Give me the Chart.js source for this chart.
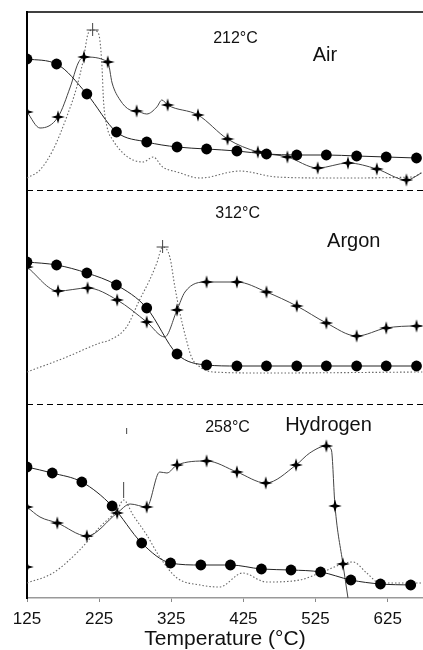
<!DOCTYPE html>
<html>
<head>
<meta charset="utf-8">
<script src="https://cdn.jsdelivr.net/npm/chart.js@4.4.0/dist/chart.umd.min.js"></script>
<style>
html,body{margin:0;padding:0;background:#fff}
canvas{display:block}
</style>
</head>
<body>
<canvas id="grafico" width="423" height="650"></canvas>
<script>
// eje x
const tempTicks = [125, 225, 325, 425, 525, 625]

// paneles
const panelNames = ['Air', 'Argon', 'Hydrogen']
const peakTemps = ['212°C', '312°C', '258°C']

// Air
const airCircT = [125, 166, 208, 249, 291, 333, 374, 416, 457, 499, 540, 582, 623, 665]
const airCirc = [131, 126, 96, 58, 48, 43, 41, 39, 36, 35, 35, 34, 33, 32]
const airStarT = [125, 143, 168, 185, 196, 204, 237, 243, 254, 268, 277, 291, 305, 312, 320, 362, 403, 445, 486, 528, 570, 610, 651, 672]
const airStar = [78, 62, 73, 103, 127, 133, 128, 107, 90, 80, 79, 76, 83, 90, 85, 75, 51, 38, 33, 22, 27, 21, 10, 17]
const airStarMark = [1, 0, 1, 0, 0, 1, 1, 0, 0, 0, 1, 0, 0, 0, 1, 1, 1, 1, 1, 1, 1, 1, 1, 0]
const airDtaT = [125, 143, 161, 180, 194, 203, 210, 216, 223, 226, 229, 231, 236, 244, 258, 272, 286, 300, 313, 333, 365, 420, 471, 549, 660, 673]
const airDta = [12, 20, 40, 73, 103, 130, 157, 160, 158, 150, 123, 90, 63, 50, 37, 30, 28, 33, 23, 18, 12, 19, 13, 12, 13, 18]

// Argon
const arCircT = [125, 166, 208, 249, 291, 333, 374, 416, 457, 499, 540, 582, 623, 665]
const arCirc = [142, 139, 131, 119, 96, 50, 39, 38, 38, 38, 38, 38, 38, 38]
const arStarT = [125, 168, 209, 250, 291, 316, 333, 344, 374, 416, 457, 499, 540, 582, 623, 665, 673]
const arStar = [137, 113, 116, 104, 82, 67, 94, 112, 122, 122, 112, 98, 81, 68, 76, 78, 78]
const arStarMark = [1, 1, 1, 1, 1, 0, 1, 0, 1, 1, 1, 1, 1, 1, 1, 1, 0]
const arDtaT = [125, 180, 226, 240, 263, 281, 295, 305, 313, 323, 330, 337, 346, 353, 365, 383, 457, 673]
const arDta = [32, 47, 61, 64, 77, 104, 124, 141, 157, 147, 117, 91, 64, 47, 37, 32, 31, 32]

// Hydrogen
const h2CircT = [125, 160, 201, 243, 284, 324, 366, 407, 450, 491, 532, 574, 615, 657]
const h2Circ = [131, 125, 116, 92, 55, 35, 33, 33, 29, 28, 26, 18, 14, 13]
const h2StarT = [125, 143, 167, 208, 250, 268, 291, 309, 319, 333, 374, 416, 456, 498, 517, 540, 547, 552, 563, 570]
const h2Star = [91, 81, 75, 62, 85, 94, 91, 126, 125, 133, 137, 126, 115, 133, 145, 152, 148, 92, 34, 0]
const h2StarMark = [1, 0, 1, 1, 1, 0, 1, 0, 0, 1, 1, 1, 1, 1, 0, 1, 0, 1, 1, 0]
const h2LoneT = [125]
const h2Lone = [31]
const h2DtaT = [125, 161, 198, 226, 250, 259, 272, 291, 309, 333, 365, 392, 424, 457, 503, 531, 577, 596, 614, 673]
const h2Dta = [15, 25, 48, 71, 88, 98, 83, 63, 41, 20, 13, 11, 25, 16, 18, 25, 36, 25, 15, 15]

const fuente = "'Liberation Sans', Arial, sans-serif"

// estrella de 4 puntas para los marcadores
const estrella = document.createElement('canvas')
estrella.width = 14
estrella.height = 14
const ec = estrella.getContext('2d')
ec.beginPath()
for (let k = 0; k < 8; k++) {
    const r = k % 2 === 0 ? 6.8 : 2.1
    const a = -Math.PI / 2 + k * Math.PI / 4
    const px = 7 + r * Math.cos(a)
    const py = 7 + r * Math.sin(a)
    if (k === 0) ec.moveTo(px, py)
    else ec.lineTo(px, py)
}
ec.closePath()
ec.fillStyle = '#000'
ec.fill()

function pts(xs, ys) {
    return xs.map((x, i) => ({x: x, y: ys[i]}))
}

function curvaDta(xs, ys, eje) {
    return {
        data: pts(xs, ys),
        yAxisID: eje,
        borderColor: '#666',
        borderWidth: 1.1,
        borderDash: [1.5, 2],
        pointRadius: 0,
        cubicInterpolationMode: 'monotone',
        order: 3,
    }
}

function curvaEstrella(xs, ys, marcas, eje) {
    return {
        data: pts(xs, ys),
        yAxisID: eje,
        borderColor: '#444',
        borderWidth: 1,
        pointStyle: estrella,
        pointRadius: c => marcas[c.dataIndex] ? 6 : 0,
        cubicInterpolationMode: 'monotone',
        order: 2,
    }
}

function curvaCirculo(xs, ys, eje) {
    return {
        data: pts(xs, ys),
        yAxisID: eje,
        borderColor: '#222',
        borderWidth: 1,
        pointStyle: 'circle',
        pointRadius: 5.4,
        pointBackgroundColor: '#000',
        pointBorderColor: '#000',
        pointBorderWidth: 0,
        cubicInterpolationMode: 'monotone',
        order: 1,
    }
}

function ejePanel(alto) {
    return {
        type: 'linear',
        position: 'left',
        stack: 'paneles',
        stackWeight: alto,
        min: 0,
        max: alto,
        ticks: {display: false},
        grid: {display: false, drawTicks: false},
        border: {display: true, color: '#000', width: 2},
    }
}

const ejes = ['yAir', 'yAr', 'yH2']
const dtas = [[airDtaT, airDta], [arDtaT, arDta], [h2DtaT, h2Dta]]

const anotaciones = {
    id: 'anotaciones',
    afterDatasetsDraw(chart) {
        const ctx = chart.ctx
        const area = chart.chartArea
        const x = chart.scales.x
        ctx.save()

        // linea superior
        ctx.strokeStyle = '#000'
        ctx.lineWidth = 1.5
        ctx.beginPath()
        ctx.moveTo(area.left, area.top)
        ctx.lineTo(area.right, area.top)
        ctx.stroke()

        // separadores discontinuos
        ctx.lineWidth = 1
        ctx.setLineDash([6, 4])
        ;['yAir', 'yAr'].forEach(id => {
            const yb = Math.round(chart.scales[id].bottom) + 0.5
            ctx.beginPath()
            ctx.moveTo(area.left, yb)
            ctx.lineTo(area.right, yb)
            ctx.stroke()
        })
        ctx.setLineDash([])

        // marcas de pico
        ctx.strokeStyle = '#444'
        ctx.lineWidth = 1
        dtas.forEach((d, p) => {
            const ys = d[1]
            const i = ys.indexOf(Math.max(...ys))
            const px = x.getPixelForValue(d[0][i])
            const py = chart.scales[ejes[p]].getPixelForValue(ys[i])
            ctx.beginPath()
            if (p < 2) {
                ctx.moveTo(px - 6, py)
                ctx.lineTo(px + 6, py)
                ctx.moveTo(px, py - 7)
                ctx.lineTo(px, py + 6)
            } else {
                ctx.moveTo(px, py - 2)
                ctx.lineTo(px, py - 18)
                ctx.moveTo(px + 3, py - 72)
                ctx.lineTo(px + 3, py - 66)
            }
            ctx.stroke()
        })

        // textos
        const pos = [
            [[414, 151], [538, 135]],
            [[417, 190], [578, 163]],
            [[403, 170], [543, 173]],
        ]
        ctx.fillStyle = '#111'
        ctx.textAlign = 'center'
        ctx.textBaseline = 'middle'
        pos.forEach((q, p) => {
            const ys = chart.scales[ejes[p]]
            ctx.font = '16px ' + fuente
            ctx.fillText(peakTemps[p], x.getPixelForValue(q[0][0]), ys.getPixelForValue(q[0][1]))
            ctx.font = '20px ' + fuente
            ctx.fillText(panelNames[p], x.getPixelForValue(q[1][0]), ys.getPixelForValue(q[1][1]))
        })
        ctx.restore()
    }
}

let grafico = new Chart(document.getElementById('grafico'), {
    type: 'line',
    data: {
        datasets: [
            curvaDta(airDtaT, airDta, 'yAir'),
            curvaEstrella(airStarT, airStar, airStarMark, 'yAir'),
            curvaCirculo(airCircT, airCirc, 'yAir'),
            curvaDta(arDtaT, arDta, 'yAr'),
            curvaEstrella(arStarT, arStar, arStarMark, 'yAr'),
            curvaCirculo(arCircT, arCirc, 'yAr'),
            curvaDta(h2DtaT, h2Dta, 'yH2'),
            curvaEstrella(h2StarT, h2Star, h2StarMark, 'yH2'),
            curvaCirculo(h2CircT, h2Circ, 'yH2'),
            {
                data: pts(h2LoneT, h2Lone),
                yAxisID: 'yH2',
                showLine: false,
                pointStyle: estrella,
                pointRadius: 6,
            },
        ]
    },
    options: {
        responsive: false,
        animation: false,
        events: [],
        layout: {autoPadding: false, padding: {left: 27, right: 0, top: 12, bottom: 0}},
        plugins: {legend: {display: false}, tooltip: {enabled: false}},
        scales: {
            x: {
                type: 'linear',
                min: 125,
                max: 674,
                afterBuildTicks: s => { s.ticks = tempTicks.map(v => ({value: v})) },
                afterFit: s => { s.height = 52 },
                grid: {display: true, drawOnChartArea: false, drawTicks: true, tickLength: 4, color: '#888'},
                border: {display: true, color: '#999', width: 1.5},
                ticks: {
                    font: {family: fuente, size: 17, lineHeight: 1},
                    color: '#111',
                    padding: 9,
                    maxRotation: 0,
                    autoSkip: false,
                },
                title: {
                    display: true,
                    text: 'Temperature (°C)',
                    font: {family: fuente, size: 21, lineHeight: 1},
                    color: '#111',
                    padding: {top: 0, bottom: 0},
                },
            },
            // el ultimo eje declarado queda arriba
            yH2: ejePanel(194),
            yAr: ejePanel(214),
            yAir: ejePanel(178),
        },
    },
    plugins: [anotaciones],
})
</script>
</body>
</html>
